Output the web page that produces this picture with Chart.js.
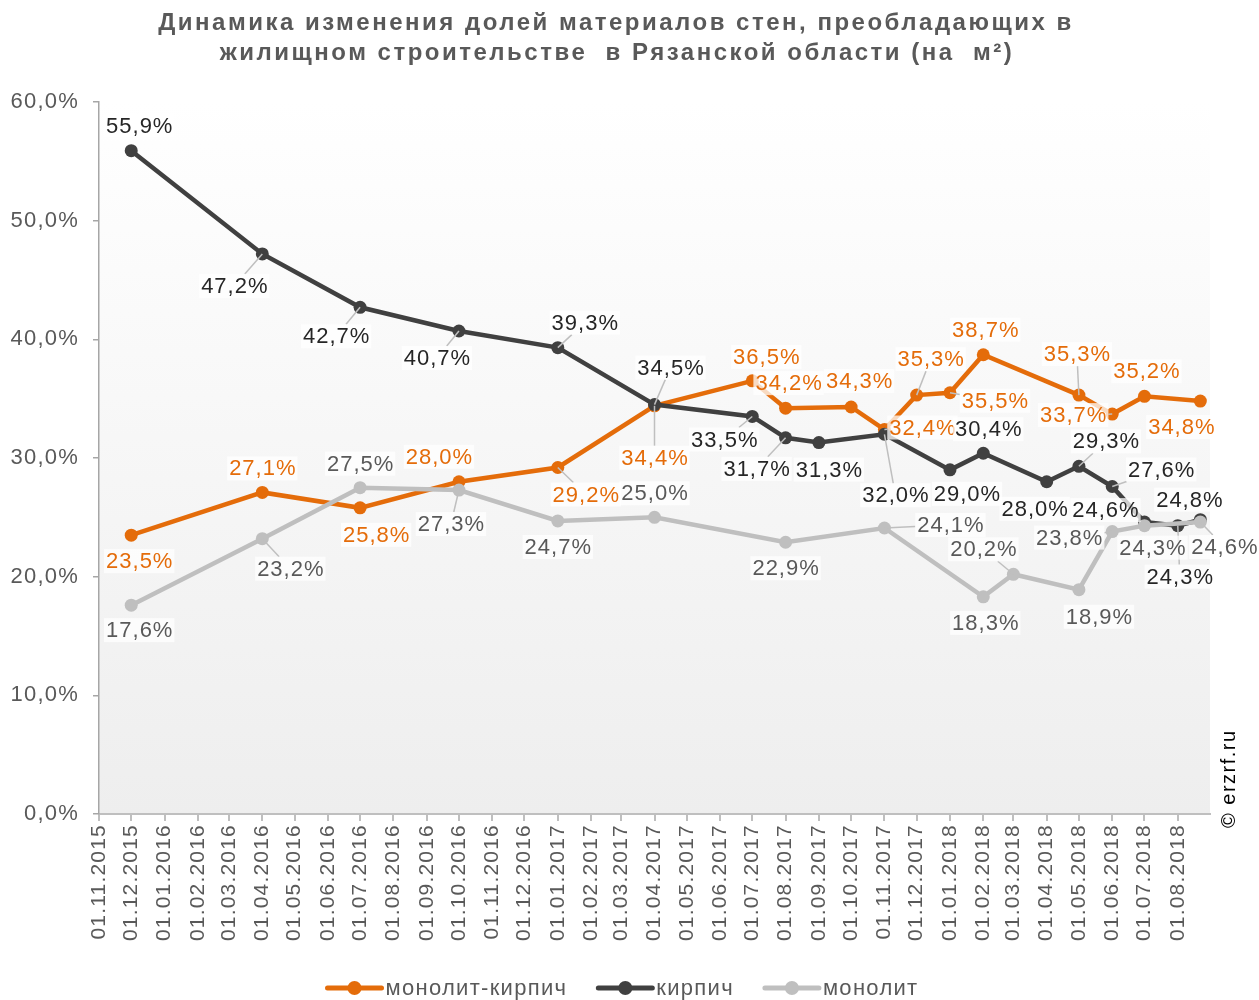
<!DOCTYPE html>
<html>
<head>
<meta charset="utf-8">
<script src="https://cdn.jsdelivr.net/npm/chart.js@4.4.1/dist/chart.umd.min.js"></script>
<style>
  html, body { margin: 0; padding: 0; background: #fff; }
  #wrap { width: 1259px; height: 1000px; position: relative; }
</style>
</head>
<body>
<div id="wrap"><canvas id="myChart"></canvas></div>
<script>
// tick labels on the date axis
var tickLabels = ['01.11.2015', '01.12.2015', '01.01.2016', '01.02.2016', '01.03.2016', '01.04.2016',
    '01.05.2016', '01.06.2016', '01.07.2016', '01.08.2016', '01.09.2016', '01.10.2016', '01.11.2016',
    '01.12.2016', '01.01.2017', '01.02.2017', '01.03.2017', '01.04.2017', '01.05.2017', '01.06.2017',
    '01.07.2017', '01.08.2017', '01.09.2017', '01.10.2017', '01.11.2017', '01.12.2017', '01.01.2018',
    '01.02.2018', '01.03.2018', '01.04.2018', '01.05.2018', '01.06.2018', '01.07.2018', '01.08.2018'];

// dates of the data points
var pointDates = ['01.12.2015', '01.04.2016', '01.07.2016', '01.10.2016', '01.01.2017', '01.04.2017',
    '01.07.2017', '01.08.2017', '01.09.2017', '01.10.2017', '01.11.2017', '01.12.2017', '01.01.2018',
    '01.02.2018', '01.03.2018', '01.04.2018', '01.05.2018', '01.06.2018', '01.07.2018', '01.08.2018',
    '22.08.2018'];

var seriesNames = ['монолит-кирпич', 'кирпич', 'монолит'];

var monolitKirpich = [23.5, 27.1, 25.8, 28.0, 29.2, 34.4, 36.5, 34.2, null, 34.3, 32.4, 35.3, 35.5,
    38.7, null, null, 35.3, 33.7, 35.2, null, 34.8];
var kirpich = [55.9, 47.2, 42.7, 40.7, 39.3, 34.5, 33.5, 31.7, 31.3, null, 32.0, null, 29.0,
    30.4, null, 28.0, 29.3, 27.6, 24.6, 24.3, 24.8];
var monolit = [17.6, 23.2, 27.5, 27.3, 24.7, 25.0, null, 22.9, null, null, 24.1, null, null,
    18.3, 20.2, null, 18.9, 23.8, 24.3, null, 24.6];

var titleLines = ['Динамика изменения долей материалов стен, преобладающих в',
                  'жилищном строительстве  в Рязанской области (на  м²)'];

// where each value label sits, relative to its point (px)
var labelOffsets = [
    [[8, 26], [0, -24], [16, 27], [-20, -25], [28, 27], [0, 52], [14, -24], [3, -25], null, [8, -26],
     [38, -2], [14, -36], [45, 8], [2, -25], null, null, [-2, -41], [-39, 1], [2, -25], null, [-19, 26]],
    [[8, -25], [-28, 32], [-24, 29], [-22, 27], [27, -25], [16, -37], [-28, 23], [-29, 31], [10, 27], null,
     [11, 61], null, [17, 24], [5, -24], null, [-12, 27], [27, -25], [49, -17], [-39, -12], [2, 51], [-11, -20]],
    [[8, 25], [28, 30], [0, -24], [-8, 34], [0, 26], [0, -24], null, [0, 26], null, null,
     [66, -3], null, null, [2, 26], [-30, -25], null, [20, 27], [-43, 6], [8, 22], null, [24, 25]]
];

var lineColors = ['#E46C0A', '#404040', '#BFBFBF'];
var labelColors = ['#E46C0A', '#262626', '#595959'];
var FONT = '"Liberation Sans", Arial, sans-serif';

// days since 01.11.2015
function dayIndex(s) {
    var p = s.split('.').map(Number);
    return (Date.UTC(p[2], p[1] - 1, p[0]) - Date.UTC(2015, 10, 1)) / 86400000;
}

function pct(v) {
    return v.toFixed(1).replace('.', ',') + '%';
}

function makeData(values) {
    return pointDates.map(function (d, i) {
        return { x: dayIndex(d), y: values[i] };
    });
}

// plot background gradient + wider letter spacing for axis text
var bgPlugin = {
    id: 'plotBg',
    beforeDraw: function (chart) {
        var a = chart.chartArea, ctx = chart.ctx;
        var g = ctx.createLinearGradient(0, a.top, 0, a.bottom);
        g.addColorStop(0, '#FFFFFF');
        g.addColorStop(1, '#EEEEEE');
        ctx.save();
        ctx.fillStyle = g;
        ctx.fillRect(a.left, a.top, a.right - a.left, a.bottom - a.top);
        ctx.restore();
        ctx.letterSpacing = '1.2px';
    }
};

// value labels with white boxes and leader lines
var labelPlugin = {
    id: 'valueLabels',
    afterDatasetsDraw: function (chart) {
        var ctx = chart.ctx;
        ctx.save();
        ctx.font = '22px ' + FONT;
        ctx.letterSpacing = '1px';
        ctx.textAlign = 'center';
        ctx.textBaseline = 'middle';
        chart.data.datasets.forEach(function (ds, i) {
            var meta = chart.getDatasetMeta(i);
            meta.data.forEach(function (pt, j) {
                var off = labelOffsets[i][j];
                if (!off || ds.data[j].y === null) return;
                var txt = pct(ds.data[j].y);
                var w = ctx.measureText(txt).width + 3, h = 24;
                var cx = pt.x + off[0], cy = pt.y + off[1];
                var dist = Math.sqrt(off[0] * off[0] + off[1] * off[1]);
                if (dist > 34) {
                    // leader line stops at the box edge
                    var sx = Math.abs(off[0]) > 0 ? (w / 2) / Math.abs(off[0]) : Infinity;
                    var sy = Math.abs(off[1]) > 0 ? (h / 2) / Math.abs(off[1]) : Infinity;
                    var s = Math.min(sx, sy);
                    ctx.strokeStyle = '#BFBFBF';
                    ctx.lineWidth = 1.5;
                    ctx.beginPath();
                    ctx.moveTo(pt.x, pt.y);
                    ctx.lineTo(cx - off[0] * s, cy - off[1] * s);
                    ctx.stroke();
                }
                ctx.fillStyle = 'rgba(255,255,255,0.75)';
                ctx.fillRect(cx - w / 2, cy - h / 2, w, h);
                ctx.fillStyle = labelColors[i];
                ctx.fillText(txt, cx + 0.5, cy + 1);
            });
        });
        ctx.restore();
    }
};

// title, legend at the bottom and the copyright mark
var textPlugin = {
    id: 'chartTexts',
    afterDraw: function (chart) {
        var ctx = chart.ctx;
        ctx.save();
        ctx.font = 'bold 24px ' + FONT;
        ctx.letterSpacing = '2.5px';
        ctx.fillStyle = '#595959';
        ctx.textAlign = 'center';
        ctx.textBaseline = 'middle';
        ctx.fillText(titleLines[0], 616, 23);
        ctx.fillText(titleLines[1], 617, 53);

        ctx.font = '22px ' + FONT;
        ctx.letterSpacing = '1.3px';
        var markW = 58, gap = 2, space = 29, y = 988;
        var total = 0;
        seriesNames.forEach(function (n, i) {
            total += markW + gap + ctx.measureText(n).width + (i < seriesNames.length - 1 ? space : 0);
        });
        var x = 622 - total / 2;
        seriesNames.forEach(function (n, i) {
            ctx.strokeStyle = lineColors[i];
            ctx.lineWidth = 5;
            ctx.lineCap = 'round';
            ctx.beginPath();
            ctx.moveTo(x + 2, y);
            ctx.lineTo(x + markW - 2, y);
            ctx.stroke();
            ctx.fillStyle = lineColors[i];
            ctx.beginPath();
            ctx.arc(x + markW / 2, y, 7, 0, Math.PI * 2);
            ctx.fill();
            ctx.fillStyle = '#595959';
            ctx.textAlign = 'left';
            ctx.fillText(n, x + markW + gap, y + 1);
            x += markW + gap + ctx.measureText(n).width + space;
        });

        // copyright
        ctx.translate(1229, 828);
        ctx.rotate(-Math.PI / 2);
        ctx.font = '20px ' + FONT;
        ctx.letterSpacing = '1.5px';
        ctx.fillStyle = '#000';
        ctx.textAlign = 'left';
        ctx.fillText('© erzrf.ru', 0, 0);
        ctx.restore();
    }
};

var datasets = [monolitKirpich, kirpich, monolit].map(function (vals, i) {
    return {
        label: seriesNames[i],
        data: makeData(vals),
        borderColor: lineColors[i],
        backgroundColor: lineColors[i],
        borderWidth: 4.5,
        pointRadius: 6.5,
        pointHoverRadius: 6.5,
        pointBorderWidth: 0,
        spanGaps: true,
        tension: 0,
        order: 2 - i
    };
});

var ctx = document.getElementById('myChart').getContext('2d');
var myChart = new Chart(ctx, {
    type: 'line',
    data: { datasets: datasets },
    options: {
        responsive: true,
        maintainAspectRatio: false,
        animation: false,
        events: [],
        layout: { padding: { left: 0, right: 49, top: 102, bottom: 0 } },
        plugins: {
            legend: { display: false },
            tooltip: { enabled: false },
            title: { display: false }
        },
        scales: {
            x: {
                type: 'linear',
                min: 0,
                max: 1034,
                afterBuildTicks: function (axis) {
                    axis.ticks = tickLabels.map(function (s) { return { value: dayIndex(s) }; });
                },
                afterFit: function (axis) { axis.height = 186; },
                ticks: {
                    autoSkip: false,
                    maxRotation: 90,
                    minRotation: 90,
                    padding: 3,
                    color: '#595959',
                    font: { family: FONT, size: 21 },
                    callback: function (v, i) { return tickLabels[i]; }
                },
                grid: { drawOnChartArea: false, drawTicks: true, tickLength: 7, color: '#BFBFBF', lineWidth: 2 },
                border: { color: '#BFBFBF', width: 2 }
            },
            y: {
                min: 0,
                max: 60,
                afterFit: function (axis) { axis.width = 99; },
                ticks: {
                    stepSize: 10,
                    padding: 14,
                    color: '#595959',
                    font: { family: FONT, size: 22 },
                    callback: function (v) { return pct(v); }
                },
                grid: { drawOnChartArea: false, drawTicks: true, tickLength: 6, color: '#A6A6A6', lineWidth: 1.5 },
                border: { color: '#A6A6A6', width: 1.5 }
            }
        }
    },
    plugins: [bgPlugin, labelPlugin, textPlugin]
});
</script>
</body>
</html>
